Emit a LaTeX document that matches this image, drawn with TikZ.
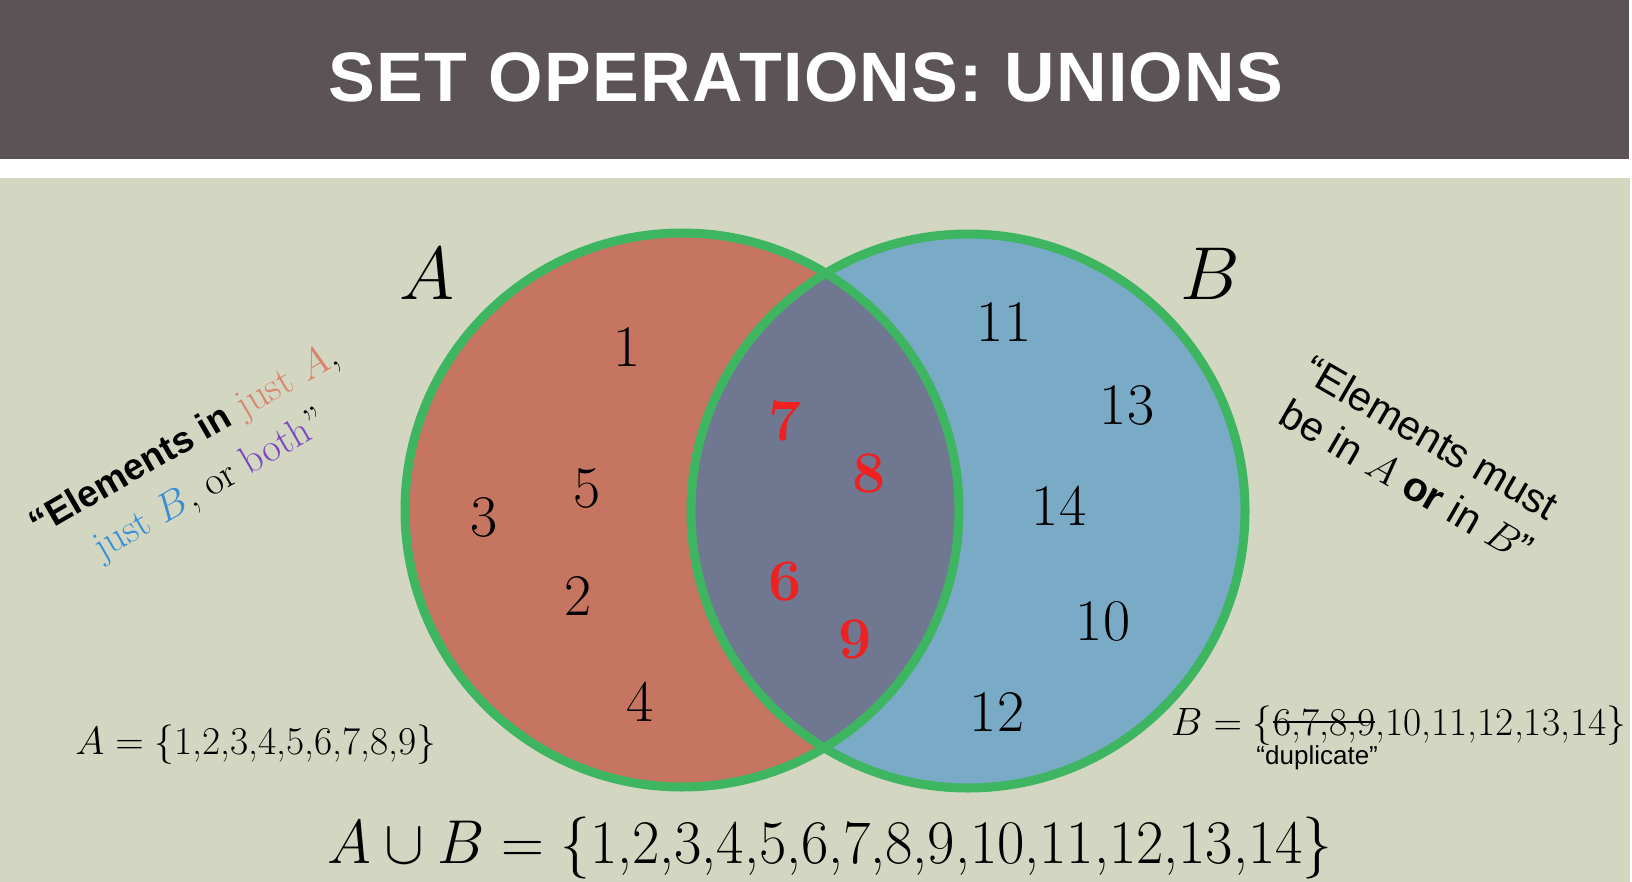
\RequirePackage{fix-cm}
\documentclass[tikz,border=0pt]{standalone}
\usepackage{fontspec}
\usetikzlibrary{positioning}
\newfontfamily\arialfont{Liberation Sans}
\newfontfamily\titlefont[LetterSpace=2]{Liberation Sans}
\definecolor{barGray}{RGB}{91,83,86}
\definecolor{sage}{RGB}{211,215,193}
\definecolor{fillA}{RGB}{197,117,96}
\definecolor{fillB}{RGB}{122,171,198}
\definecolor{fillAB}{RGB}{112,120,145}
\definecolor{ring}{RGB}{61,181,97}
\definecolor{dupRed}{RGB}{238,32,32}
\definecolor{justA}{RGB}{214,134,112}
\definecolor{justB}{RGB}{58,143,212}
\definecolor{both}{RGB}{124,72,190}
\begin{document}
\begin{tikzpicture}[x=1pt,y=-1pt,
    num/.style={inner sep=0pt,font=\fontsize{59}{59}\selectfont},
    dup/.style={inner sep=0pt,text=dupRed,font=\fontsize{59}{59}\selectfont\bfseries},
    setlist/.style={inner sep=0pt,anchor=base,font=\fontsize{39.5}{40}\selectfont}]
  \useasboundingbox (0,0) rectangle (1632,882);
  \fill[white] (0,0) rectangle (1632,882);
  \fill[barGray] (0,0) rectangle (1629,159);
  \fill[sage] (0,178) rectangle (1630,882);
  \node[text=white,font=\titlefont\bfseries\fontsize{70}{70}\selectfont] (title) at (806,77) {SET OPERATIONS: UNIONS};

  % the two sets
  \coordinate (cA) at (682,510);
  \coordinate (cB) at (968,511);
  \fill[fillA] (cA) circle (277);
  \fill[fillB] (cB) circle (277);
  \begin{scope}
    \clip (cA) circle (277);
    \fill[fillAB] (cB) circle (277);
  \end{scope}
  \draw[ring,line width=9pt] (cA) circle (277) (cB) circle (277);
  \node[font=\fontsize{75}{75}\selectfont] (labA) at (427,274) {$A$};
  \node[font=\fontsize{75}{75}\selectfont] (labB) at (1210,274) {$B$};

  % elements
  \node[num] (n1) at (627,347) {1};
  \node[num] (n2) at (578,596) {2};
  \node[num] (n3) at (484,517) {3};
  \node[num] (n4) at (640,702) {4};
  \node[num] (n5) at (587,488) {5};
  \node[dup] (n6) at (785,581) {6};
  \node[dup] (n7) at (785,421) {7};
  \node[dup] (n8) at (869,474) {8};
  \node[dup] (n9) at (855,639) {9};
  \node[num] (n10) at (1103,621) {10};
  \node[num] (n11) at (1004,322) {11};
  \node[num] (n12) at (997,712) {12};
  \node[num] (n13) at (1127,405) {13};
  \node[num] (n14) at (1059,506) {14};

  % side notes
  \node[rotate=30,align=center,font=\fontsize{40}{52}\selectfont] (leftnote) at (198,464)
    {{\arialfont\bfseries\fontsize{37}{52}\selectfont “Elements in} \textcolor{justA}{just $A$},\\
     \textcolor{justB}{just $B$}, or \textcolor{both}{both}”};
  \node[rotate=-30,align=center,font=\arialfont\fontsize{41}{50}\selectfont] (rightnote) at (1419,459)
    {“Elements must\\ be in $A$ \textbf{or} in $B$”};

  % set lists
  \node[setlist] (listA) at (256,754) {$A = \{$1,2,3,4,5,6,7,8,9$\}$};
  \node[setlist,anchor=base west] (listB) at (1171,735) {$B = \{$};
  \node[setlist,anchor=base west] (listBdup) at (listB.base east) {6,7,8,9};
  \node[setlist,anchor=base west] (listBrest) at (listBdup.base east) {,10,11,12,13,14$\}$};
  \draw[line width=1.8pt] ([yshift=13pt]listBdup.base west) -- ([yshift=13pt]listBdup.base east);
  \node[below=3pt of listBdup,xshift=-7pt,inner sep=0pt,font=\arialfont\fontsize{26}{26}\selectfont] (dupnote) {“duplicate”};
  \node[anchor=base,inner sep=0pt,font=\fontsize{62}{62}\selectfont] (union) at (830,863)
    {\scalebox{0.96}[1]{$A \cup B = \{$1,2,3,4,5,6,7,8,9,10,11,12,13,14$\}$}};
\end{tikzpicture}
\end{document}
